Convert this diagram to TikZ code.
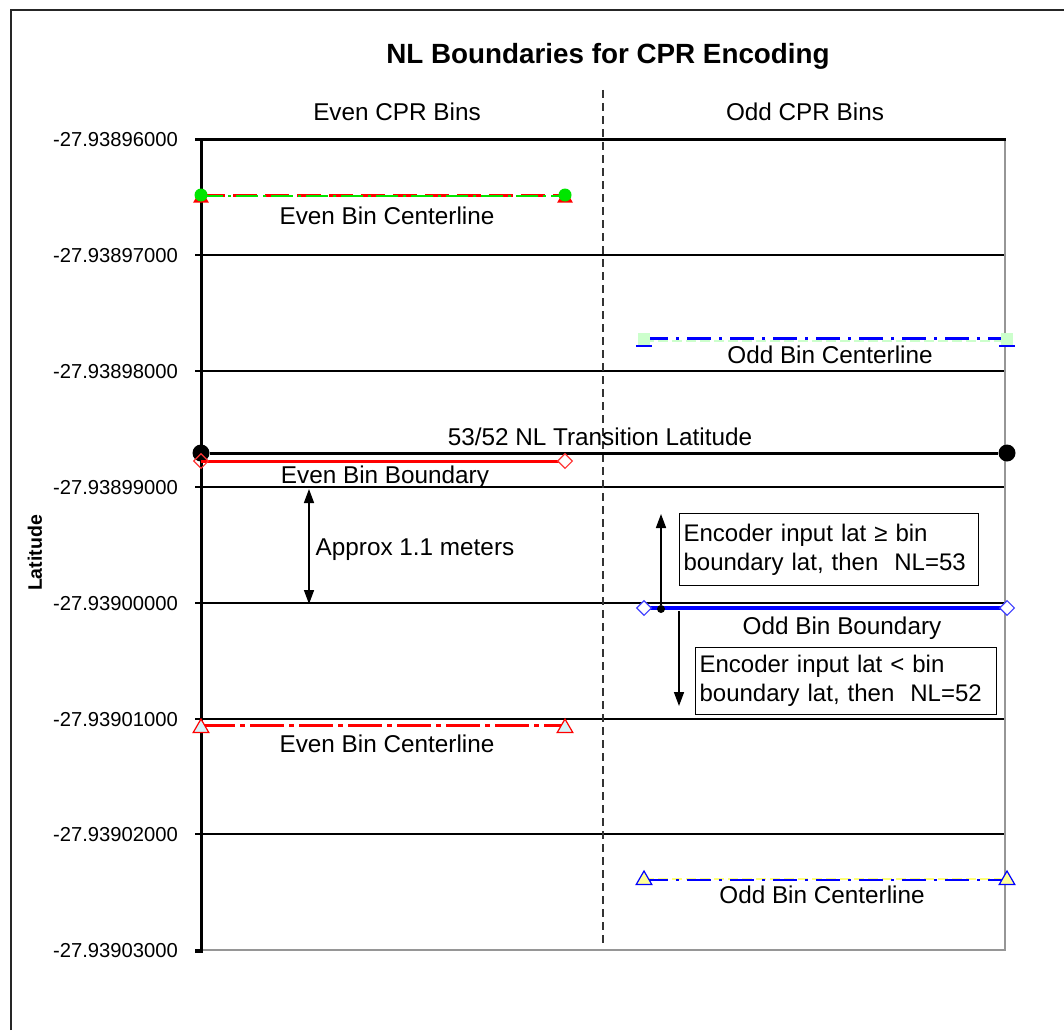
\documentclass[tikz,border=0pt]{standalone}
\usepackage{fontspec}
\setmainfont{Liberation Sans}
\usetikzlibrary{arrows.meta,shapes.geometric}
\definecolor{brightgreen}{RGB}{0,230,0}
\definecolor{palegreen}{RGB}{204,255,204}
\definecolor{paleyellow}{RGB}{255,255,153}
\definecolor{palecyan}{RGB}{215,245,250}
\definecolor{frameg}{RGB}{150,150,150}
\begin{document}
\begin{tikzpicture}[x=1pt,y=-1pt,
  txt/.style={font=\fontsize{24.3}{28}\selectfont, inner sep=0pt, anchor=base},
  ticklbl/.style={font=\fontsize{20.2}{24}\selectfont, inner sep=0pt, anchor=base east},
  gridln/.style={line width=1.3pt, black},
  arr/.style={line width=1.5pt, -{Triangle[length=14pt,width=10pt]}},
  tri/.style={regular polygon, regular polygon sides=3, minimum size=18pt, inner sep=0pt, line width=1.2pt},
  dia/.style={diamond, minimum size=15pt, inner sep=0pt, draw, line width=1.1pt, fill=white},
  infobox/.style={draw, line width=1.2pt, font=\fontsize{24}{29}\selectfont, align=left, inner xsep=4pt, inner ysep=0pt, anchor=north west}
]
\useasboundingbox (0,0) rectangle (1064,1030);
% outer frame (only top and left visible)
\draw[line width=2pt, black!85] (11,1030) -- (11,10) -- (1064,10);

% title and headers
\node[font=\bfseries\fontsize{27.8}{31}\selectfont, inner sep=0pt, anchor=base] (title) at (608,64) {NL Boundaries for CPR Encoding};
\node[txt] (evenhdr) at (397,121) {Even CPR Bins};
\node[txt] (oddhdr) at (805,121) {Odd CPR Bins};
\node[font=\bfseries\fontsize{19.5}{23}\selectfont, inner sep=0pt, rotate=90] (ylab) at (35,553) {Latitude};

% gridlines
\foreach \yy in {255,371,487,603,719,834} {
  \draw[gridln] (201,\yy) -- (1005,\yy);
}
% plot borders
\draw[line width=2pt, frameg] (1005,139) -- (1005,950) -- (201,950);
\draw[line width=3pt, black] (195,139) -- (1006,139);
\draw[line width=3pt, black] (201,139) -- (201,951) -- (195,951);
% ticks and labels
\foreach \yy/\lab in {139/-27.93896000,255/-27.93897000,371/-27.93898000,487/-27.93899000,603/-27.93900000,719/-27.93901000,834/-27.93902000,950/-27.93903000} {
  \draw[line width=2pt] (195,\yy) -- (201,\yy);
  \node[ticklbl] at (178,\yy+7) {\lab};
}
% divider
\coordinate (divtop) at (603,90);
\coordinate (divbot) at (603,946);
\draw[line width=1.6pt, black!80, dash pattern=on 8pt off 5pt] (divtop) -- (divbot);

% ---- Even centerline 1 (y=195)
\coordinate (ec1a) at (201,195);
\coordinate (ec1b) at (565,195);
\draw[red, line width=3pt, dash pattern=on 24pt off 8pt] (ec1a) -- (ec1b);
\draw[brightgreen, line width=1.6pt, dash pattern=on 22pt off 5pt on 3pt off 5pt] ([yshift=-1pt]ec1a) -- ([yshift=-1pt]ec1b);
\node[tri, fill=red] (ec1ta) at (201,198) {};
\node[tri, fill=red] (ec1tb) at (565,198) {};
\node[circle, fill=brightgreen, minimum size=13pt, inner sep=0pt] (ec1ca) at (ec1a) {};
\node[circle, fill=brightgreen, minimum size=13pt, inner sep=0pt] (ec1cb) at (ec1b) {};
\node[txt] (ec1lbl) at (387,224) {Even Bin Centerline};

% ---- Odd centerline 1 (y=340)
\coordinate (oc1a) at (644,340);
\coordinate (oc1b) at (1007,340);
\draw[palegreen, line width=1.6pt, dash pattern=on 10pt off 4pt] ([yshift=-1pt]oc1a) -- ([yshift=-1pt]oc1b);
\draw[blue, line width=2.4pt, dash pattern=on 24pt off 8pt on 3pt off 8pt] ([yshift=1.5pt]oc1a) -- ([yshift=1.5pt]oc1b);
\foreach \nm/\xx in {oc1sa/644,oc1sb/1007} {
  \draw[blue, line width=1.6pt] (\xx-8,346) -- (\xx+8,346);
  \node[rectangle, fill=palegreen, minimum size=12pt, inner sep=0pt] (\nm) at (\xx,339) {};
}
\node[txt] (oc1lbl) at (830,363) {Odd Bin Centerline};

% ---- Transition latitude (y=453)
\node[circle, fill=black, minimum size=17pt, inner sep=0pt] (tra) at (201,453) {};
\node[circle, fill=black, minimum size=17pt, inner sep=0pt] (trb) at (1007,453) {};
\draw[line width=3pt, black] (tra) -- (trb);
\node[txt] (trlbl) at (600,445) {53/52 NL Transition Latitude};

% ---- Even bin boundary (y=461)
\coordinate (ebba) at (201,461);
\coordinate (ebbb) at (565,461);
\draw[red, line width=3pt] (ebba) -- (ebbb);
\node[dia, draw=red!80, fill=none] (ebda) at (ebba) {};
\node[dia, draw=red!80, fill=white] (ebdb) at (ebbb) {};
\node[txt] (ebblbl) at (385,483) {Even Bin Boundary};

% approx arrow
\coordinate (apmid) at (309,547);
\coordinate (aptop) at (309,489);
\coordinate (apbot) at (309,604);
\draw[arr] (apmid) -- (aptop);
\draw[arr] (apmid) -- (apbot);
\node[txt] (aplbl) at (415,555) {Approx 1.1 meters};

% ---- Odd bin boundary (y=608)
\coordinate (obba) at (644,608);
\coordinate (obbb) at (1007,608);
\draw[blue, line width=3.5pt] (obba) -- (obbb);
\node[dia, draw=blue!75] (obda) at (obba) {};
\node[dia, draw=blue!75] (obdb) at (obbb) {};
\node[txt] (obblbl) at (842,634) {Odd Bin Boundary};

% encoder arrows
\node[circle, fill=black, minimum size=8pt, inner sep=0pt] (updot) at (661,609) {};
\coordinate (uptip) at (661,514);
\draw[arr] (updot) -- (uptip);
\coordinate (dnstart) at (679,611);
\coordinate (dntip) at (679,706);
\draw[arr] (dnstart) -- (dntip);

\node[infobox, minimum width=299pt, minimum height=72pt, text width=291pt] (box1) at (679,513) {Encoder input\ lat ≥ bin\\boundary lat, then\ \ NL=53};
\node[infobox, minimum width=301pt, minimum height=67pt, text width=293pt] (box2) at (695,647) {Encoder input\ lat < bin\\boundary lat, then\ \ NL=52};

% ---- Even centerline 2 (y=725)
\coordinate (ec2a) at (201,725);
\coordinate (ec2b) at (565,725);
\draw[red, line width=3pt, dash pattern=on 34pt off 5pt on 5pt off 5pt] (ec2a) -- (ec2b);
\node[tri, draw=red, fill=palecyan] (ec2ta) at (201,728) {};
\node[tri, draw=red, fill=palecyan] (ec2tb) at (565,728) {};
\node[txt] (ec2lbl) at (387,752) {Even Bin Centerline};

% ---- Odd centerline 2 (y=879)
\coordinate (oc2a) at (644,879);
\coordinate (oc2b) at (1007,879);
\draw[paleyellow!80!yellow, line width=1.6pt, dash pattern=on 10pt off 4pt] (oc2a) -- (oc2b);
\draw[blue, line width=2.4pt, dash pattern=on 24pt off 8pt on 3pt off 8pt] ([yshift=-1pt]oc2a) -- ([yshift=-1pt]oc2b);
\node[tri, draw=blue, fill=paleyellow] (oc2ta) at (644,880) {};
\node[tri, draw=blue, fill=paleyellow] (oc2tb) at (1007,880) {};
\node[txt] (oc2lbl) at (822,903) {Odd Bin Centerline};
\end{tikzpicture}
\end{document}
